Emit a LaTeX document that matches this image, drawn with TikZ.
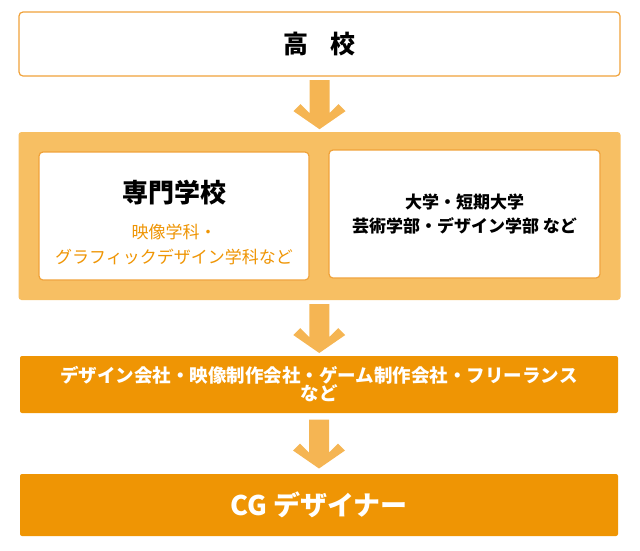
\documentclass[tikz,border=0pt]{standalone}
\usepackage{fontspec}
\newfontfamily\jp{Noto Sans CJK JP}
\usetikzlibrary{calc}
\usetikzlibrary{positioning}
\definecolor{lineOrange}{HTML}{F0A23A}
\definecolor{panelOrange}{HTML}{F7BF63}
\definecolor{barOrange}{HTML}{EF9504}
\definecolor{arrowOrange}{HTML}{F5B553}
\tikzstyle{whitebox} = [draw=lineOrange, line width=1.2pt, fill=white, rounded corners=4pt, align=center, inner sep=0pt]
\tikzstyle{barbox} = [fill=barOrange, rounded corners=2pt, align=center, text=white, inner sep=0pt]
\newcommand{\downchevron}[1]{%
    \fill[arrowOrange] ($(#1)+(-10,-24)$) -- ($(#1)+(10,-24)$) -- ($(#1)+(10,9)$) -- ($(#1)+(19,0)$) -- ($(#1)+(26,7)$)
        -- ($(#1)+(0,25)$) -- ($(#1)+(-26,7)$) -- ($(#1)+(-19,0)$) -- ($(#1)+(-10,9)$) -- cycle;}

\begin{document}
\begin{tikzpicture}[x=1pt, y=-1pt, font=\jp\bfseries]
    \useasboundingbox (0,0) rectangle (640,550);
    \node[whitebox, minimum width=601pt, minimum height=64pt, font=\jp\bfseries\fontsize{25}{28}\selectfont] (koukou) at (319.5,44) {高\hspace{0.9em}校};
    \node[fill=panelOrange, rounded corners=3pt, minimum width=602pt, minimum height=168pt] (panel) at (319.5,216) {};
    \node[whitebox, minimum width=270pt, minimum height=128pt] (senmon) at (174,216) {};
    \node[font=\jp\bfseries\fontsize{26}{30}\selectfont] (senmon_title) at (174,193) {専門学校};
    \node[font=\jp\fontsize{17}{25}\selectfont, text=barOrange, align=center] (senmon_sub) at (174,244) {映像学科・\\グラフィックデザイン学科など};
    \node[whitebox, minimum width=271pt, minimum height=128pt, font=\jp\bfseries\fontsize{17}{24}\selectfont] (daigaku) at (464.5,214) {大学・短期大学\\芸術学部・デザイン学部 など};
    \node[barbox, minimum width=598pt, minimum height=57pt, font=\jp\bfseries\fontsize{18.5}{18}\selectfont] (kaisha) at (319,384.5) {デザイン会社・映像制作会社・ゲーム制作会社・フリーランス\\など};
    \node[barbox, minimum width=598pt, minimum height=62pt, font=\jp\bfseries\fontsize{27}{30}\selectfont] (designer) at (319,505) {CG デザイナー};
    \coordinate (arrow1) at ($(koukou.south)!0.5!(panel.north)$);
    \coordinate (arrow2) at ($(panel.south)!0.5!(kaisha.north)$);
    \coordinate (arrow3) at ($(kaisha.south)!0.5!(designer.north)$);
    \downchevron{arrow1}
    \downchevron{arrow2}
    \downchevron{arrow3}
\end{tikzpicture}
\end{document}
